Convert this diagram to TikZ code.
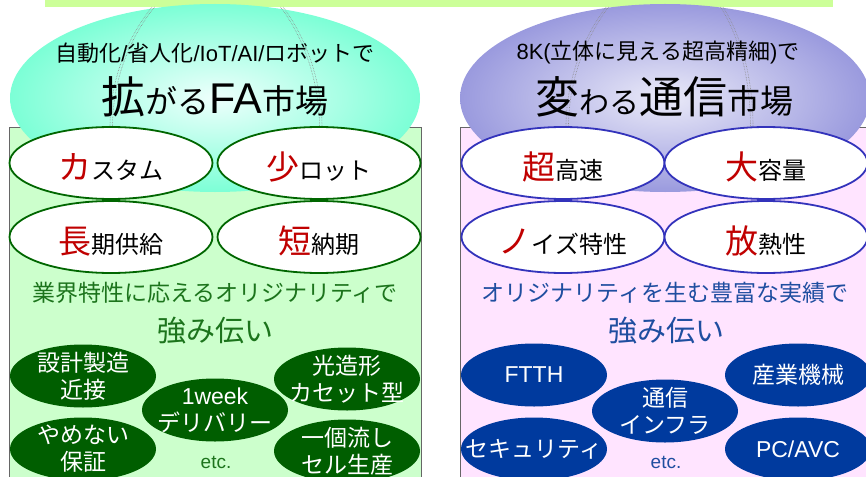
\documentclass[tikz,border=0pt]{standalone}
\usepackage{fontspec}
\setmainfont{Noto Sans CJK JP}
\newfontfamily\lat{Liberation Sans}
\usetikzlibrary{positioning}
\usetikzlibrary{shapes.geometric}

\definecolor{barlime}{HTML}{CCFF99}
\definecolor{leafbg}{HTML}{CCFFCC}
\definecolor{pinkbg}{HTML}{FFE4FF}
\definecolor{aquaout}{HTML}{7CFFD6}
\definecolor{aquain}{HTML}{EEFFFC}
\definecolor{lavout}{HTML}{9A9ADE}
\definecolor{lavin}{HTML}{EAEAF8}
\definecolor{leafline}{HTML}{006600}
\definecolor{navyline}{HTML}{3333BB}
\definecolor{leafdark}{HTML}{005E00}
\definecolor{navydark}{HTML}{003A9E}
\definecolor{kwred}{HTML}{C00000}
\definecolor{leaftext}{HTML}{1C741C}
\definecolor{navytext}{HTML}{1F4EA0}

\newcommand\kw[2]{{\fontsize{33}{33}\selectfont\color{kwred}#1}{\fontsize{24}{24}\selectfont #2}}

\begin{document}
\begin{tikzpicture}[x=1pt, y=-1pt,
    panelbox/.style={draw=gray!80!black, line width=0.8pt},
    globe/.style={ellipse, minimum width=410pt, minimum height=188pt, inner sep=0pt},
    meridian/.style={densely dotted, gray!90, line width=0.6pt},
    tag/.style={ellipse, draw=#1, line width=1.8pt, fill=white, minimum width=203pt, minimum height=72pt, inner sep=0pt, text height=37pt, text depth=5pt},
    chip/.style={ellipse, fill=#1, text=white, minimum width=146pt, minimum height=63pt, inner xsep=-20pt, inner ysep=-4pt, align=center, font=\fontsize{23}{27}\selectfont},
    lead/.style={text=#1, font=\fontsize{23}{23}\selectfont},
    strong/.style={text=#1, font=\fontsize{29}{29}\selectfont},
    etcnote/.style={text=#1, font=\lat\fontsize{19}{19}\selectfont}]
	\useasboundingbox (0,0) rectangle (866,476);
	\clip (0,0) rectangle (866,476);
	\fill[barlime] (45,0) rectangle (833,7);
	% panels
	\draw[panelbox, fill=leafbg] (9,127) rectangle (421,490);
	\draw[panelbox, fill=pinkbg] (460,127) rectangle (880,490);
	% FA side
	\node[globe, inner color=aquain, outer color=aquaout] (faglobe) at (215,98) {};
	\foreach \dx in {0,2.5} {
		\draw[meridian, xshift=\dx] (152,7) .. controls (124,42) and (110,85) .. (110,127);
		\draw[meridian, xshift=-\dx] (283,7) .. controls (308,40) and (322,85) .. (322,127);
	}
	\node[font=\fontsize{22}{22}\selectfont] (faline) at (215,53) {自動化{\lat /}省人化{\lat /IoT/AI/}ロボットで};
	\node (fatitle) at (215,97) {{\fontsize{44}{44}\selectfont 拡}{\fontsize{32}{32}\selectfont がる}{\lat\fontsize{43}{43}\selectfont FA}{\fontsize{33}{33}\selectfont 市場}};
	\node[tag=leafline] (custom) at (111,163) {\kw{カ}{スタム}};
	\node[tag=leafline] (smalllot) at (319,163) {\kw{少}{ロット}};
	\node[tag=leafline] (longsup) at (111,237) {\kw{長}{期供給}};
	\node[tag=leafline] (shortlt) at (319,237) {\kw{短}{納期}};
	\node[lead=leaftext] (faorig) at (215,293) {業界特性に応えるオリジナリティで};
	\node[strong=leaftext] (fastrong) at (215,331) {強み伝い};
	\node[chip=leafdark] (design) at (83,376) {設計製造\\近接};
	\node[chip=leafdark] (optic) at (347,379) {光造形\\カセット型};
	\node[chip=leafdark] (week) at (215,410) {{\lat 1week}\\デリバリー};
	\node[chip=leafdark] (warranty) at (83,449) {やめない\\保証};
	\node[chip=leafdark] (cellprod) at (347,451) {一個流し\\セル生産};
	\node[etcnote=leaftext] (faetc) at (216,462) {etc.};
	% telecom side
	\node[globe, inner color=lavin, outer color=lavout] (comglobe) at (665,98) {};
	\foreach \dx in {0,2.5} {
		\draw[meridian, xshift=\dx] (606,7) .. controls (580,42) and (566,85) .. (566,127);
		\draw[meridian, xshift=-\dx] (723,7) .. controls (744,40) and (753,85) .. (753,127);
	}
	\node[font=\fontsize{22}{22}\selectfont] (comline) at (658,53) {{\lat 8K(}立体に見える超高精細{\lat )}で};
	\node (comtitle) at (664,97) {{\fontsize{44}{44}\selectfont 変}{\fontsize{30}{30}\selectfont わる}{\fontsize{44}{44}\selectfont 通信}{\fontsize{33}{33}\selectfont 市場}};
	\node[tag=navyline] (hispeed) at (563,163) {\kw{超}{高速}};
	\node[tag=navyline] (bigcap) at (766,163) {\kw{大}{容量}};
	\node[tag=navyline] (noise) at (563,237) {\kw{ノ}{イズ特性}};
	\node[tag=navyline] (heat) at (766,237) {\kw{放}{熱性}};
	\node[lead=navytext] (comorig) at (665,293) {オリジナリティを生む豊富な実績で};
	\node[strong=navytext] (comstrong) at (666,331) {強み伝い};
	\node[chip=navydark, font=\lat\fontsize{23}{27}\selectfont] (ftth) at (534,375) {FTTH};
	\node[chip=navydark] (industry) at (798,375) {産業機械};
	\node[chip=navydark] (infra) at (665,411) {通信\\インフラ};
	\node[chip=navydark] (security) at (534,449) {セキュリティ};
	\node[chip=navydark, font=\lat\fontsize{23}{27}\selectfont] (pcavc) at (798,449) {PC/AVC};
	\node[etcnote=navytext] (cometc) at (666,462) {etc.};
\end{tikzpicture}
\end{document}
